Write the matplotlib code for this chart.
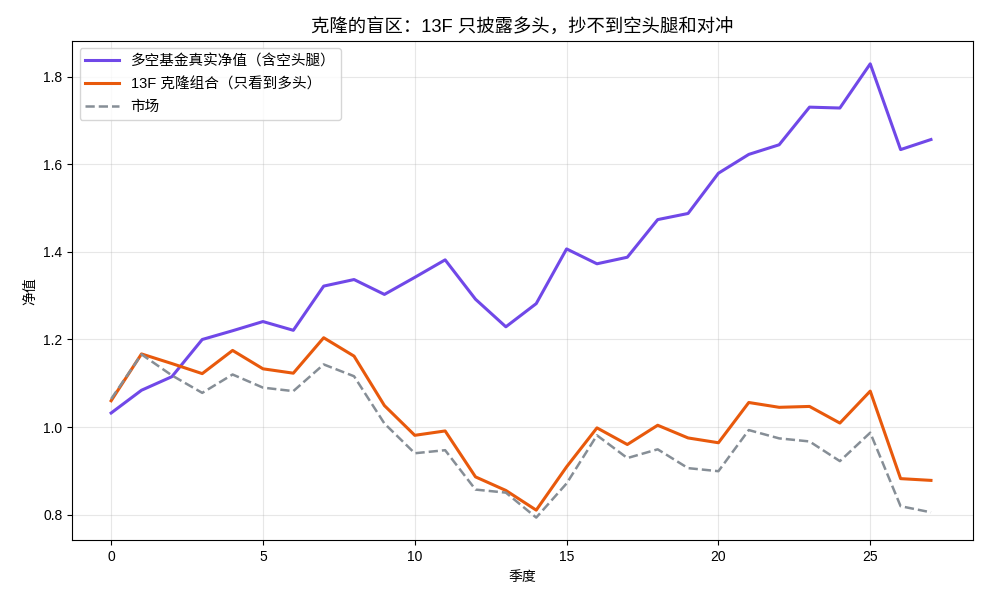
import matplotlib
matplotlib.use("Agg")
import matplotlib.pyplot as plt
import numpy as np

plt.rcParams['font.family'] = ['Liberation Sans', 'Noto Sans CJK SC', 'DejaVu Sans']
plt.rcParams['axes.unicode_minus'] = False

quarters = np.arange(28)

# 多空基金真实净值（含空头腿）
fund_nav = [1.032, 1.084, 1.115, 1.200, 1.220, 1.241, 1.221, 1.322, 1.337, 1.303,
            1.342, 1.382, 1.292, 1.229, 1.282, 1.407, 1.373, 1.388, 1.474, 1.488,
            1.580, 1.623, 1.645, 1.731, 1.729, 1.830, 1.634, 1.657]

# 13F 克隆组合（只看到多头）
clone_nav = [1.060, 1.167, 1.145, 1.122, 1.175, 1.133, 1.123, 1.204, 1.162, 1.049,
             0.981, 0.991, 0.886, 0.855, 0.810, 0.909, 0.998, 0.960, 1.004, 0.975,
             0.964, 1.056, 1.045, 1.047, 1.009, 1.082, 0.882, 0.878]

# 市场
market_nav = [1.064, 1.166, 1.118, 1.078, 1.120, 1.090, 1.082, 1.143, 1.116, 1.008,
              0.940, 0.947, 0.857, 0.850, 0.793, 0.871, 0.981, 0.929, 0.949, 0.906,
              0.899, 0.993, 0.974, 0.967, 0.922, 0.987, 0.819, 0.805]

fig, ax = plt.subplots(figsize=(9.9, 6.05), dpi=100)
fig.subplots_adjust(left=0.073, right=0.983, top=0.932, bottom=0.107)

ax.plot(quarters, fund_nav, color='#7048e8', lw=2.2, label='多空基金真实净值（含空头腿）')
ax.plot(quarters, clone_nav, color='#e8590c', lw=2.2, label='13F 克隆组合（只看到多头）')
ax.plot(quarters, market_nav, color='#868e96', lw=1.8, ls='--', label='市场')

ax.set_title('克隆的盲区：13F 只披露多头，抄不到空头腿和对冲', fontsize=13.2)
ax.set_xlabel('季度')
ax.set_ylabel('净值')
ax.set_xticks([0, 5, 10, 15, 20, 25])
ax.set_yticks([0.8, 1.0, 1.2, 1.4, 1.6, 1.8])
ax.set_xlim(-1.28, 28.39)
ax.grid(True, alpha=0.3)
ax.legend(loc='upper left', fontsize=10.5, handlelength=2.3, labelspacing=0.6)

plt.savefig('out.png')
